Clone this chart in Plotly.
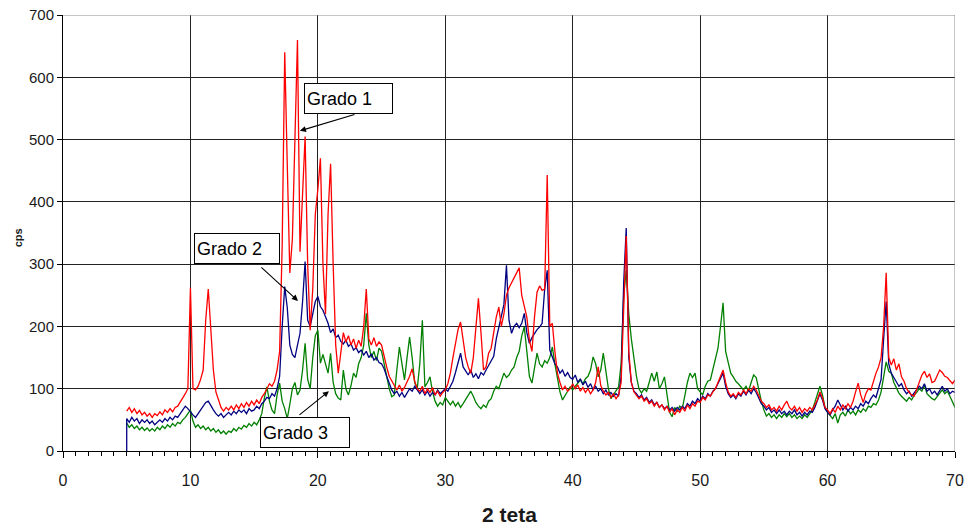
import numpy as np
import plotly.graph_objects as go

# 2-theta grid (degrees), 0.2 step from 5 to 70
two_theta = np.round(5.0 + 0.2 * np.arange(326), 1)

# Grado 1 (red), cps
grado1 = (
    [64, 70, 62, 68, 60, 65, 58, 62, 56, 60, 54, 60, 57, 63, 58, 66, 62, 68, 63, 70, 72, 78, 84, 92, 100]
    + [262, 100, 98, 104, 115, 130, 210, 260, 190, 130, 95, 82, 70, 64, 70, 66, 72, 66, 74, 68, 76, 70, 78, 72, 80]
    + [74, 82, 76, 86, 92, 100, 108, 104, 112, 130, 160, 330, 640, 460, 286, 340, 480, 660, 320, 420, 505, 300, 194, 260, 380]
    + [420, 470, 300, 220, 380, 461, 300, 170, 125, 160, 190, 175, 185, 170, 180, 165, 178, 168, 200, 260, 180, 170, 182, 168, 175]
    + [170, 150, 135, 120, 112, 104, 98, 106, 96, 102, 110, 120, 132, 112, 100, 96, 104, 92, 100, 94, 102, 90, 96, 88, 94]
    + [98, 108, 125, 150, 175, 195, 207, 180, 150, 135, 125, 150, 200, 245, 190, 130, 135, 157, 165, 190, 215, 231, 200, 220, 250]
    + [262, 270, 279, 285, 294, 250, 230, 215, 178, 160, 215, 255, 265, 258, 260, 443, 200, 205, 160, 125, 110, 98, 104, 96, 100]
    + [108, 100, 106, 96, 102, 94, 100, 92, 98, 110, 135, 105, 96, 90, 94, 86, 92, 84, 90, 110, 240, 345, 160, 110, 95]
    + [90, 84, 88, 80, 84, 76, 80, 72, 78, 70, 74, 66, 72, 62, 68, 58, 66, 62, 70, 64, 74, 68, 76, 72, 80]
    + [78, 86, 82, 90, 88, 95, 100, 110, 120, 130, 110, 95, 88, 92, 86, 94, 90, 98, 92, 100, 96, 104, 98, 88, 80]
    + [76, 70, 74, 66, 70, 64, 72, 66, 74, 80, 70, 66, 72, 64, 70, 62, 68, 64, 70, 66, 74, 82, 95, 85, 70]
    + [66, 60, 68, 62, 72, 66, 74, 68, 76, 70, 80, 95, 109, 90, 78, 92, 100, 98, 112, 125, 135, 150, 200, 286, 150]
    + [138, 148, 130, 140, 119, 112, 100, 94, 90, 88, 100, 110, 122, 128, 118, 124, 110, 112, 120, 130, 126, 120, 118, 112, 108, 114]
)

# Grado 2 (navy), cps
grado2 = (
    [52, 46, 54, 48, 52, 44, 50, 46, 50, 44, 48, 42, 46, 50, 46, 52, 48, 54, 50, 56, 54, 60, 64, 72, 68]
    + [62, 58, 54, 60, 64, 70, 78, 80, 72, 66, 60, 56, 60, 54, 58, 62, 58, 64, 60, 66, 62, 66, 60, 68, 64]
    + [66, 72, 68, 76, 80, 86, 84, 92, 88, 100, 120, 200, 264, 230, 170, 155, 150, 170, 189, 240, 304, 210, 200, 220, 240]
    + [248, 232, 226, 216, 205, 190, 196, 182, 186, 176, 172, 178, 168, 172, 162, 166, 158, 162, 154, 160, 150, 156, 146, 150, 142]
    + [140, 132, 120, 108, 98, 92, 96, 88, 94, 86, 92, 100, 96, 104, 98, 92, 98, 90, 96, 88, 94, 90, 98, 92, 96]
    + [100, 96, 104, 112, 126, 140, 157, 135, 128, 122, 130, 118, 124, 116, 126, 122, 130, 138, 146, 152, 180, 200, 215, 235, 298]
    + [210, 189, 200, 205, 198, 205, 221, 190, 173, 182, 189, 195, 199, 205, 260, 290, 162, 150, 140, 135, 125, 130, 120, 126, 118]
    + [115, 122, 110, 116, 106, 112, 102, 108, 98, 104, 96, 100, 92, 98, 90, 94, 88, 92, 88, 120, 270, 358, 150, 110, 96]
    + [92, 86, 90, 82, 86, 78, 82, 74, 78, 70, 74, 68, 72, 66, 70, 64, 70, 66, 72, 68, 76, 72, 80, 76, 84]
    + [80, 88, 84, 92, 88, 96, 100, 108, 116, 125, 104, 92, 86, 90, 84, 92, 88, 96, 90, 98, 92, 100, 94, 84, 76]
    + [72, 66, 70, 62, 66, 60, 66, 60, 64, 58, 64, 60, 66, 58, 62, 56, 62, 58, 64, 62, 70, 80, 92, 82, 68]
    + [62, 58, 66, 72, 82, 74, 66, 72, 64, 70, 66, 72, 68, 76, 72, 80, 76, 84, 90, 86, 100, 115, 180, 240, 140]
    + [125, 118, 112, 104, 108, 98, 92, 96, 88, 94, 98, 104, 100, 108, 96, 100, 92, 96, 90, 98, 104, 96, 100, 92, 96, 94]
)

# Grado 3 (green), cps
grado3 = (
    [45, 38, 42, 36, 40, 34, 38, 33, 37, 32, 36, 32, 38, 34, 40, 36, 42, 38, 44, 40, 46, 44, 50, 54, 60]
    + [66, 48, 38, 42, 36, 40, 34, 38, 32, 36, 30, 34, 28, 32, 27, 32, 30, 36, 32, 38, 35, 41, 38, 44, 40]
    + [46, 42, 50, 60, 85, 103, 80, 66, 60, 90, 109, 80, 68, 52, 75, 100, 110, 90, 98, 130, 173, 115, 100, 150, 185]
    + [194, 141, 155, 140, 125, 157, 110, 92, 85, 82, 130, 100, 90, 105, 125, 118, 140, 150, 170, 221, 170, 150, 160, 145, 165]
    + [160, 140, 125, 100, 87, 90, 130, 167, 140, 114, 150, 183, 150, 110, 100, 140, 210, 103, 110, 119, 95, 80, 72, 78, 74]
    + [86, 80, 74, 80, 72, 78, 70, 76, 82, 90, 96, 88, 78, 72, 68, 74, 70, 80, 84, 96, 104, 100, 112, 125, 118]
    + [122, 130, 135, 150, 160, 185, 199, 160, 120, 109, 135, 157, 140, 135, 145, 141, 150, 167, 140, 119, 95, 82, 88, 96, 103]
    + [98, 104, 110, 114, 108, 116, 120, 130, 151, 140, 119, 130, 157, 130, 100, 84, 90, 96, 103, 140, 250, 290, 220, 180, 146]
    + [120, 100, 93, 100, 96, 110, 125, 112, 127, 100, 108, 119, 90, 62, 55, 70, 64, 72, 68, 90, 110, 125, 118, 125, 100]
    + [95, 90, 104, 112, 114, 130, 150, 165, 200, 238, 160, 141, 125, 119, 112, 108, 103, 98, 104, 96, 110, 122, 118, 96, 80]
    + [66, 56, 60, 54, 58, 52, 58, 54, 60, 55, 60, 54, 58, 52, 56, 52, 58, 54, 60, 66, 78, 90, 104, 90, 70]
    + [62, 56, 52, 60, 45, 58, 62, 56, 66, 60, 64, 58, 66, 62, 68, 64, 72, 70, 76, 74, 82, 95, 120, 143, 128]
    + [125, 110, 100, 93, 88, 84, 80, 86, 82, 90, 94, 100, 96, 106, 92, 88, 84, 82, 88, 94, 98, 92, 96, 88, 78, 70]
)

x_ticks = [0, 10, 20, 30, 40, 50, 60, 70]
y_ticks = [0, 100, 200, 300, 400, 500, 600, 700]

FONT = "Liberation Sans, Arial, sans-serif"

fig = go.Figure()
fig.add_trace(go.Scatter(x=two_theta, y=grado3, mode="lines",
                         line=dict(color="#008000", width=1.3), name="Grado 3"))
fig.add_trace(go.Scatter(x=np.concatenate([[5.0], two_theta]), y=[0] + grado2, mode="lines",
                         line=dict(color="#000080", width=1.3), name="Grado 2"))
fig.add_trace(go.Scatter(x=two_theta, y=grado1, mode="lines",
                         line=dict(color="#FF0000", width=1.3), name="Grado 1"))

fig.update_layout(
    width=970, height=527,
    margin=dict(l=63, r=15, t=15, b=76),
    plot_bgcolor="white", paper_bgcolor="white",
    showlegend=False,
    font=dict(family=FONT, size=15, color="#1a1a1a"),
)
fig.update_xaxes(
    range=[0, 70], tickvals=x_ticks, showgrid=True, gridcolor="#222", gridwidth=1,
    showline=True, linecolor="black", linewidth=1, zeroline=False, automargin=False,
    ticks="outside", ticklen=6, tickcolor="black", ticklabelstandoff=9,
    tickfont=dict(size=16),
    minor=dict(dtick=1, ticks="outside", ticklen=4, tickcolor="black", showgrid=False),
)
fig.update_yaxes(
    range=[0, 700], tickvals=y_ticks, showgrid=True, gridcolor="#222", gridwidth=1,
    showline=True, linecolor="black", linewidth=1, zeroline=False, automargin=False,
    ticks="outside", ticklen=5, tickcolor="black",
)

# grey top / right frame
fig.add_shape(type="line", x0=0, x1=70, y0=700, y1=700, xref="x", yref="y",
              line=dict(color="#8a8a8a", width=1), layer="above")
fig.add_shape(type="line", x0=70, x1=70, y0=0, y1=700, xref="x", yref="y",
              line=dict(color="#8a8a8a", width=1), layer="above")

# arrows (tail -> head)
arrows = [
    dict(tail=(22.99, 541), head=(18.59, 514)),
    dict(tail=(15.45, 297), head=(18.44, 241)),
    dict(tail=(18.44, 56), head=(20.87, 96)),
]
for a in arrows:
    fig.add_annotation(x=a["head"][0], y=a["head"][1], ax=a["tail"][0], ay=a["tail"][1],
                       xref="x", yref="y", axref="x", ayref="y", text="",
                       showarrow=True, arrowhead=2, arrowsize=1.1, arrowwidth=1.1,
                       arrowcolor="black")

# label boxes
labels = [
    dict(text="Grado 1", x=18.91, y=591, w=83),
    dict(text="Grado 2", x=10.27, y=350, w=80),
    dict(text="Grado 3", x=15.45, y=54.6, w=84),
]
for l in labels:
    fig.add_annotation(x=l["x"], y=l["y"], xref="x", yref="y", xanchor="left", yanchor="top",
                       text=l["text"], showarrow=False, align="left",
                       width=l["w"], height=25, borderpad=2,
                       bgcolor="white", bordercolor="black", borderwidth=1,
                       font=dict(family=FONT, size=18, color="black"))

# axis titles
fig.add_annotation(text="<b>2 teta</b>", xref="paper", yref="paper",
                   x=0.5, y=-0.145, xanchor="center", yanchor="middle",
                   showarrow=False, font=dict(family=FONT, size=21, color="#1a1a1a"))
fig.add_annotation(text="<b>cps</b>", xref="paper", yref="paper",
                   x=-0.0505, y=0.49, xanchor="center", yanchor="middle", textangle=-90,
                   showarrow=False, font=dict(family=FONT, size=11, color="#1a1a1a"))

fig.write_html("out.html")
